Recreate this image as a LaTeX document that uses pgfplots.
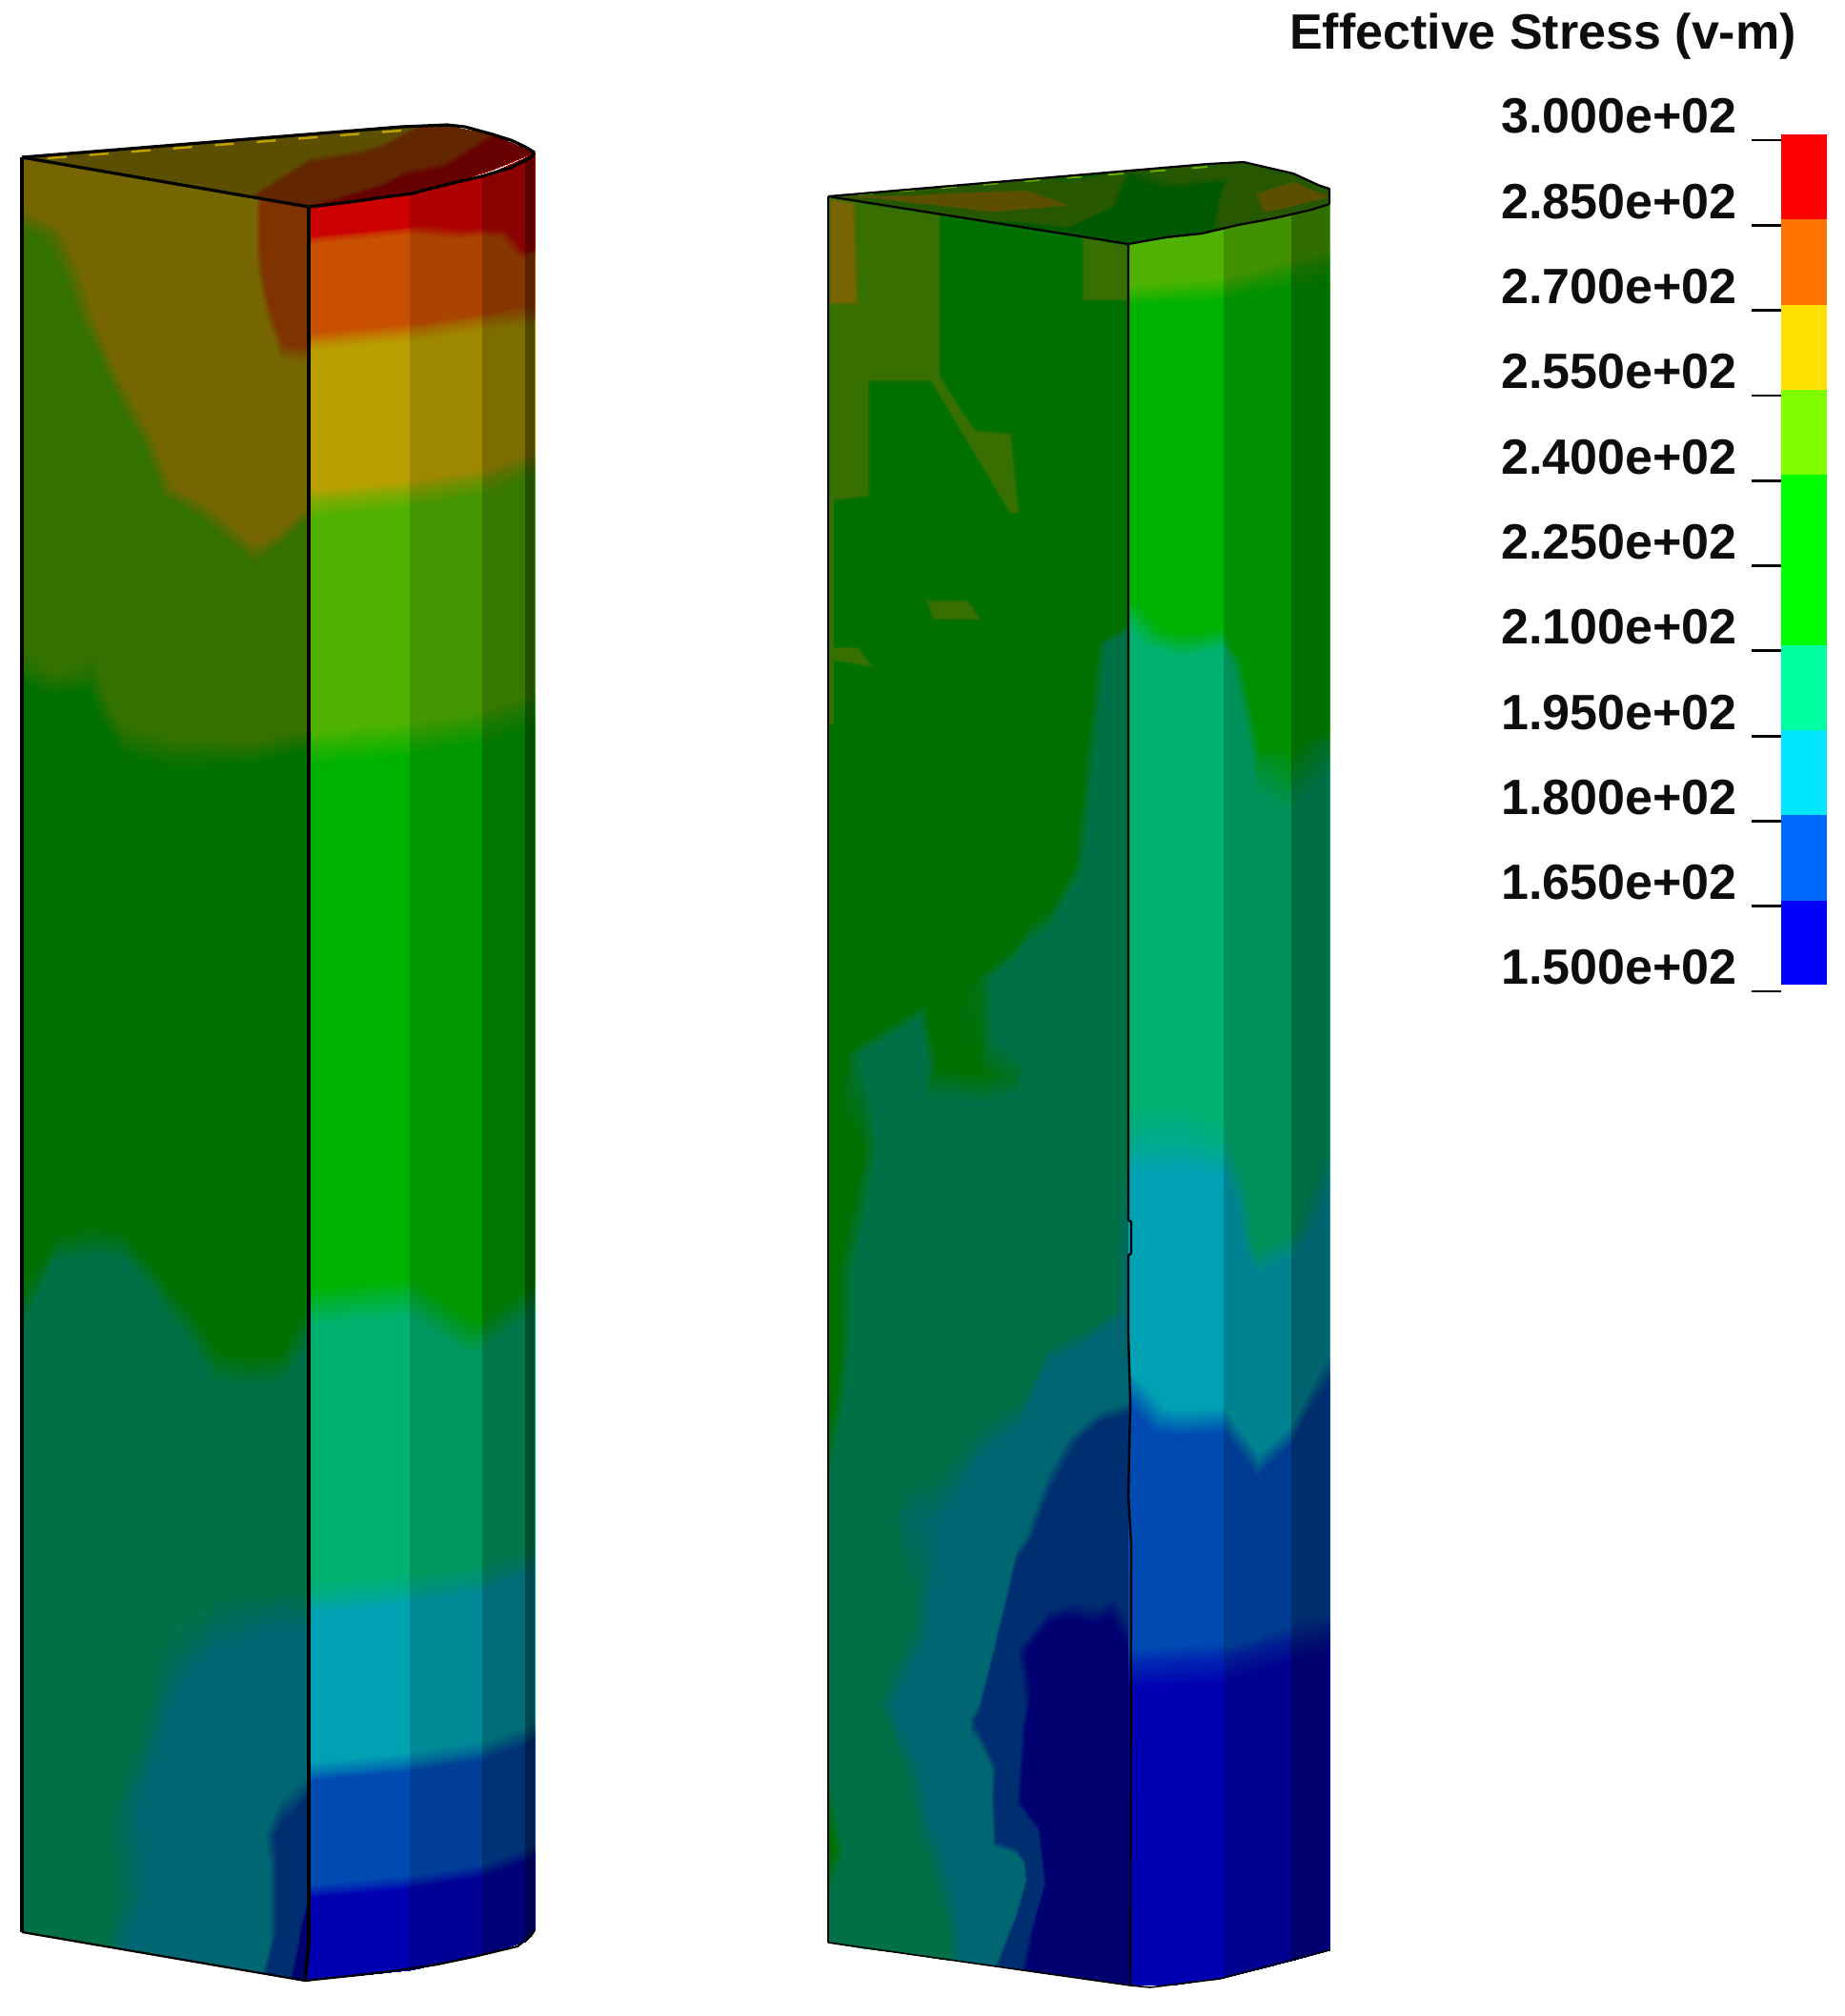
\documentclass[border=0pt]{standalone}
\usepackage{fontspec}
\setmainfont{Liberation Sans}
\usepackage{pgfplots}
\pgfplotsset{compat=1.18}
\definecolor{dashY}{RGB}{190,160,0}
\definecolor{dashL}{RGB}{105,170,0}
\definecolor{limeF}{RGB}{55,112,0}
\definecolor{oliveF}{RGB}{120,100,0}
\definecolor{b0}{RGB}{0,0,255}
\definecolor{b1}{RGB}{0,105,255}
\definecolor{b2}{RGB}{0,230,255}
\definecolor{b3}{RGB}{0,255,160}
\definecolor{b4}{RGB}{0,255,0}
\definecolor{b6}{RGB}{128,255,0}
\definecolor{b7}{RGB}{255,225,0}
\definecolor{b8}{RGB}{255,115,0}
\definecolor{b9}{RGB}{255,0,0}
\pgfplotsset{
 colormap={fringe}{
  rgb255(150pt)=(0,0,178) rgb255(164pt)=(0,0,178)
  rgb255(166pt)=(0,74,178) rgb255(179pt)=(0,74,178)
  rgb255(181pt)=(0,161,178) rgb255(194pt)=(0,161,178)
  rgb255(196pt)=(0,178,112) rgb255(209pt)=(0,178,112)
  rgb255(211pt)=(0,178,0) rgb255(239pt)=(0,178,0)
  rgb255(241pt)=(80,178,0) rgb255(254pt)=(80,178,0)
  rgb255(256pt)=(185,160,0) rgb255(269pt)=(185,160,0)
  rgb255(271pt)=(200,80,0) rgb255(284pt)=(200,80,0)
  rgb255(286pt)=(205,0,0) rgb255(300pt)=(205,0,0)
 },
 fld/.style={surf,shader=interp,mesh/ordering=x varies,point meta=explicit},
 dim/.style={fill=black,fill opacity=#1,draw=none,forget plot},
 ln/.style={black,line width=#1,line join=round,no marks},
}
\begin{document}
\begin{tikzpicture}
\useasboundingbox (0,0) rectangle (968pt,-1057.5pt);
\begin{axis}[
 at={(0,0)},anchor=north west,scale only axis,width=968pt,height=1057.5pt,
 xmin=0,xmax=1936,ymin=0,ymax=2115,y dir=reverse,hide axis,clip=false,
 colormap name=fringe,point meta min=150,point meta max=300]

% ---- left pillar, side face
\addplot[fld,mesh/cols=9,mesh/rows=16] table[meta=v,row sep=\\]{
x y v\\
23 165 260\\ 57 171 262\\ 96 178 262\\ 130 183 262\\ 180 192 262\\ 230 201 262\\ 265 207 268\\ 295 212 278\\ 324 217 280\\
23 240 254\\ 57 246 255\\ 96 253 258\\ 130 258 262\\ 180 267 262\\ 230 276 262\\ 265 282 268\\ 295 287 276\\ 324 292 280\\
23 320 250\\ 57 326 252\\ 96 333 255.5\\ 130 338 260\\ 180 347 262\\ 230 356 262\\ 265 362 264\\ 295 367 270\\ 324 372 270\\
23 400 248\\ 57 406 249\\ 96 413 251\\ 130 418 255\\ 180 427 260\\ 230 436 261\\ 265 442 261\\ 295 447 262\\ 324 452 262\\
23 480 247\\ 57 486 247\\ 96 493 248\\ 130 498 250\\ 180 507 256\\ 230 516 258\\ 265 522 260\\ 295 527 259\\ 324 532 255.5\\
23 560 246\\ 57 566 246\\ 96 573 246\\ 130 578 247\\ 180 587 248\\ 230 596 251\\ 265 602 253\\ 295 607 250\\ 324 612 248\\
23 700 240.2\\ 57 706 241\\ 96 713 240\\ 130 718 244\\ 180 727 244\\ 230 736 244\\ 265 742 244\\ 295 747 243\\ 324 752 242\\
23 760 236\\ 57 766 236\\ 96 773 237\\ 130 778 240\\ 180 787 240.2\\ 230 796 239.5\\ 265 802 239\\ 295 807 238\\ 324 812 237\\
23 1290 213\\ 57 1296 211\\ 96 1303 210\\ 130 1308 210\\ 180 1317 213\\ 230 1326 215\\ 265 1332 216\\ 295 1337 216\\ 324 1342 212\\
23 1380 209.8\\ 57 1386 205\\ 96 1393 204\\ 130 1398 204\\ 180 1407 208\\ 230 1416 211\\ 265 1422 211\\ 295 1427 210.5\\ 324 1432 208\\
23 1640 202\\ 57 1646 201\\ 96 1653 200\\ 130 1658 199\\ 180 1667 197\\ 230 1676 196\\ 265 1682 195.5\\ 295 1687 195\\ 324 1692 195\\
23 1720 201\\ 57 1726 200\\ 96 1733 199\\ 130 1738 198\\ 180 1747 195\\ 230 1756 193\\ 265 1762 192\\ 295 1767 191.5\\ 324 1772 191\\
23 1810 200\\ 57 1816 199\\ 96 1823 198\\ 130 1828 197\\ 180 1837 193\\ 230 1846 190\\ 265 1852 187\\ 295 1857 183\\ 324 1862 181\\
23 1880 200\\ 57 1886 199\\ 96 1893 198\\ 130 1898 195\\ 180 1907 192\\ 230 1916 188\\ 265 1922 183\\ 295 1927 178\\ 324 1932 174\\
23 1970 199\\ 57 1976 198\\ 96 1983 197\\ 130 1988 195.5\\ 180 1997 192\\ 230 2006 188\\ 265 2012 185\\ 295 2017 178\\ 324 2022 160\\
23 2027 199\\ 57 2033 198\\ 96 2040 197\\ 130 2045 194\\ 180 2054 190\\ 230 2063 187\\ 265 2069 185\\ 295 2074 172\\ 324 2079 152\\
};
\addplot[dim=.36] coordinates {(23,165)(324,217)(324,2079)(23,2027)} -- cycle;

% ---- left pillar, rounded face
\addplot[fld,mesh/cols=5,mesh/rows=11] table[meta=v,row sep=\\]{
x y v\\
324 217 300\\ 430 203 300\\ 506 185 300\\ 551 165 300\\ 561 160 300\\
324 250 285\\ 430 240 285\\ 506 228 288\\ 551 212 292\\ 561 205 292\\
324 300 277\\ 430 290 277\\ 506 278 278\\ 551 262 286\\ 561 255 287\\
324 357 270\\ 430 347 270\\ 506 335 270\\ 551 319 271\\ 561 312 272\\
324 525 255\\ 430 515 255\\ 506 503 255\\ 551 487 255\\ 561 480 255\\
324 784 240\\ 430 774 240\\ 506 762 240\\ 551 746 240\\ 561 739 240\\
324 1370 210\\ 430 1360 210\\ 506 1348 213\\ 551 1332 212\\ 561 1325 212\\
324 1680 195\\ 430 1670 195\\ 506 1658 195\\ 551 1642 195\\ 561 1635 195\\
324 1860 180\\ 430 1850 180\\ 506 1838 180\\ 551 1822 180\\ 561 1815 180\\
324 1985 165\\ 430 1975 165\\ 506 1963 165\\ 551 1947 165\\ 561 1940 165\\
322 2078 150\\ 430 2067 150\\ 506 2051 150\\ 551 2037 150\\ 561 2025 150\\
};
\addplot[dim=.15] coordinates {(430,203)(506,185)(506,2051)(430,2067)} -- cycle;
\addplot[dim=.32] coordinates {(506,185)(551,165)(551,2037)(506,2051)} -- cycle;
\addplot[dim=.55] coordinates {(551,165)(561,160)(561,2025)(551,2037)} -- cycle;

% ---- left pillar, cap
\addplot[fld,mesh/cols=8,mesh/rows=2] table[meta=v,row sep=\\]{
x y v\\
23 165 260\\ 130 156 260\\ 230 148 262\\ 324 141 262\\ 402 135 264\\ 467 131 275\\ 517 141 285\\ 561 160 295\\
23 165 260\\ 130 183 260\\ 230 201 262\\ 324 217 285\\ 402 207 290\\ 467 194 290\\ 517 178 295\\ 561 160 295\\
};
\addplot[dim=.5] coordinates {(23,165)(130,156)(230,148)(324,141)(402,135)(467,131)(517,141)(561,160)(517,178)(467,194)(402,207)(324,217)(230,201)(130,183)} -- cycle;
\addplot[dashY,line width=1.2pt,dash pattern=on 10pt off 12pt,no marks] coordinates {(50,166)(421,137)};

% ---- right pillar, side face
\addplot[fld,mesh/cols=9,mesh/rows=15] table[meta=v,row sep=\\]{
x y v\\
869 206 225\\ 905 212 225\\ 945 218 225\\ 985 224 225\\ 1027 231 225\\ 1066 237 225\\ 1100 242 225\\ 1150 250 225\\ 1184 256 225\\
869 560 225\\ 905 566 225\\ 945 572 225\\ 985 578 225\\ 1027 585 225\\ 1066 591 225\\ 1100 596 225\\ 1150 604 225\\ 1184 609 222\\
869 630 224\\ 905 636 224\\ 945 642 224\\ 985 648 224\\ 1027 655 224\\ 1066 661 224\\ 1100 666 224\\ 1150 674 211\\ 1184 679 205\\
869 870 222\\ 905 876 222\\ 945 882 222\\ 985 888 222\\ 1027 895 222\\ 1066 901 222\\ 1100 906 215\\ 1150 914 207\\ 1184 919 203\\
869 1000 222\\ 905 1006 222\\ 945 1012 218\\ 985 1018 214\\ 1027 1025 210.5\\ 1066 1031 206\\ 1100 1036 204\\ 1150 1044 203\\ 1184 1049 201\\
869 1100 213\\ 905 1106 209\\ 945 1112 205\\ 985 1118 211\\ 1027 1125 211\\ 1066 1131 210\\ 1100 1136 204\\ 1150 1144 202\\ 1184 1149 199\\
869 1200 212\\ 905 1206 211\\ 945 1212 206\\ 985 1218 205\\ 1027 1225 205\\ 1066 1231 205\\ 1100 1236 204\\ 1150 1244 200\\ 1184 1249 195\\
869 1330 212\\ 905 1336 208\\ 945 1342 196\\ 985 1348 203\\ 1027 1355 204\\ 1066 1361 203\\ 1100 1366 202\\ 1150 1374 198\\ 1184 1379 194\\
869 1470 212\\ 905 1476 206\\ 945 1482 200\\ 985 1488 198\\ 1027 1495 196\\ 1066 1501 194\\ 1100 1506 184\\ 1150 1514 176\\ 1184 1519 174\\
869 1580 208\\ 905 1586 203\\ 945 1592 195\\ 985 1598 194\\ 1027 1605 190\\ 1066 1611 183\\ 1100 1616 175\\ 1150 1624 172\\ 1184 1629 170\\
869 1700 207\\ 905 1706 204\\ 945 1712 197\\ 985 1718 193\\ 1027 1725 190\\ 1066 1731 166\\ 1100 1736 160\\ 1150 1744 160\\ 1184 1749 163\\
869 1780 206\\ 905 1786 198\\ 945 1792 193\\ 985 1798 190\\ 1027 1805 178\\ 1066 1811 168\\ 1100 1816 155\\ 1150 1824 155\\ 1184 1829 155\\
869 1860 209\\ 905 1866 203\\ 945 1872 197\\ 985 1878 192\\ 1027 1885 188\\ 1066 1891 166\\ 1100 1896 155\\ 1150 1904 155\\ 1184 1909 155\\
869 1940 212\\ 905 1946 206\\ 945 1952 199\\ 985 1958 195\\ 1027 1965 190\\ 1066 1971 188\\ 1100 1976 162\\ 1150 1984 155\\ 1184 1989 155\\
869 2038 206\\ 905 2044 204\\ 945 2049 200\\ 985 2055 198\\ 1027 2060 190\\ 1066 2066 168\\ 1100 2071 155\\ 1150 2077 155\\ 1184 2083 155\\
};
\addplot[dim=.36] coordinates {(869,206)(1184,256)(1184,2083)(869,2038)} -- cycle;
% lighter patches on that face
\addplot[fill=limeF,draw=limeF,draw opacity=.4,line width=2pt,forget plot] coordinates {(871,209)(985,226)(985,399)(911,399)(911,519)(871,525)} -- cycle;
\addplot[fill=limeF,draw=limeF,draw opacity=.4,line width=2pt,forget plot] coordinates {(975,395)(985,395)(1022,452)(1060,456)(1068,537)(1060,537)} -- cycle;
\addplot[fill=limeF,draw=limeF,draw opacity=.4,line width=2pt,forget plot] coordinates {(974,631)(1015,631)(1027,649)(980,649)} -- cycle;
\addplot[fill=limeF,draw=limeF,draw opacity=.4,line width=2pt,forget plot] coordinates {(872,680)(900,680)(913,698)(872,692)} -- cycle;
\addplot[fill=limeF,draw=limeF,draw opacity=.4,line width=2pt,forget plot] coordinates {(1137,250)(1182,258)(1182,314)(1137,314)} -- cycle;
\addplot[fill=limeF,draw=none,forget plot] coordinates {(869,519)(875,519)(875,760)(869,760)} -- cycle;
\addplot[fill=oliveF,draw=oliveF,draw opacity=.4,line width=3pt,forget plot] coordinates {(872,210)(895,214)(898,317)(872,317)} -- cycle;

% ---- right pillar, rounded face
\addplot[fld,mesh/cols=6,mesh/rows=11] table[meta=v,row sep=\\]{
x y v\\
1184 256 245\\ 1235 247 245\\ 1284 239 245\\ 1320 232 245\\ 1355 225 245\\ 1395 214 245\\
1184 310 240\\ 1235 306 240\\ 1284 303 240\\ 1320 293 240\\ 1355 283 240\\ 1395 274 240\\
1184 640 210\\ 1235 636 213\\ 1284 633 213\\ 1320 623 222\\ 1355 613 226\\ 1395 604 226\\
1184 700 207\\ 1235 696 208.5\\ 1284 693 208\\ 1320 683 214\\ 1355 673 222\\ 1395 664 222\\
1184 812 203\\ 1235 808 204\\ 1284 805 204\\ 1320 795 210.2\\ 1355 785 211\\ 1395 776 210\\
1184 1204 195\\ 1235 1200 195\\ 1284 1197 195.5\\ 1320 1187 199\\ 1355 1177 199\\ 1395 1168 197\\
1184 1320 191\\ 1235 1316 190.5\\ 1284 1313 191\\ 1320 1303 196.5\\ 1355 1293 196\\ 1395 1284 193\\
1184 1454 180\\ 1235 1450 183\\ 1284 1447 183\\ 1320 1437 187\\ 1355 1427 187\\ 1395 1418 181\\
1184 1553 175\\ 1235 1549 176\\ 1284 1546 176\\ 1320 1536 180\\ 1355 1526 178\\ 1395 1517 175\\
1184 1747 165\\ 1235 1743 165\\ 1284 1740 165\\ 1320 1730 165\\ 1355 1720 165\\ 1395 1711 165\\
1186 2083 152\\ 1235 2082 152\\ 1284 2075 152\\ 1320 2066 152\\ 1355 2057 152\\ 1395 2046 152\\
};
\addplot[dim=.18] coordinates {(1284,239)(1355,225)(1355,2057)(1284,2075)} -- cycle;
\addplot[dim=.38] coordinates {(1355,225)(1395,214)(1395,2046)(1355,2057)} -- cycle;

% ---- right pillar, cap
\addplot[fld,mesh/cols=9,mesh/rows=3] table[meta=v,row sep=\\]{
x y v\\
869 206 245\\ 960 198 245\\ 1040 191 242\\ 1120 185 238\\ 1184 179 240\\ 1267 172 245\\ 1305 170 245\\ 1357 182 245\\ 1395 198 245\\
869 206 255\\ 960 209 262\\ 1040 212 270\\ 1120 215 255\\ 1184 217 235\\ 1267 208 235\\ 1305 203 250\\ 1357 203 270\\ 1395 206 255\\
869 206 245\\ 960 220 242\\ 1040 233 238\\ 1120 246 235\\ 1184 256 232\\ 1267 243 238\\ 1305 235 245\\ 1357 224 245\\ 1395 214 245\\
};
\addplot[dim=.5] coordinates {(869,206)(960,198)(1040,191)(1120,185)(1184,179)(1267,172)(1305,170)(1357,182)(1395,198)(1395,214)(1357,224)(1305,235)(1267,243)(1184,256)(1120,246)(1040,233)(960,220)} -- cycle;
\addplot[dashL,line width=1pt,dash pattern=on 8pt off 14pt,no marks] coordinates {(900,204)(1280,174)};

% ---- outlines
\addplot[ln=1.8pt] coordinates {(23,165)(23,2027)};
\addplot[ln=1.8pt] coordinates {(324,217)(324,2040)(320,2078)};
\addplot[ln=1.6pt] coordinates {(23,165)(421,133)(469,131)(488,133)(517,141)(536,147)(551,154)(561,160)};
\addplot[ln=1.6pt] coordinates {(23,165)(324,217)(367,212)(402,207)(432,203)(467,194)(505,185)(536,176)(557,165)(561,160)};
\addplot[ln=1.1pt] coordinates {(23,2027)(320,2078)(339,2076)(377,2072)(411,2068)(459,2061)(497,2053)(543,2042)(557,2031)(561,2025)};
\addplot[ln=1.1pt] coordinates {(869,206)(869,2038)};
\addplot[ln=1.2pt] coordinates {(1184,256)(1184,1280)(1187,1282)(1187,1315)(1184,1317)(1184,1400)(1186,1470)(1184,1570)(1187,1620)(1186,2083)};
\addplot[ln=1.1pt] coordinates {(869,206)(1267,172)(1305,170)(1357,182)(1383,194)(1395,198)(1395,214)};
\addplot[ln=1.1pt] coordinates {(869,206)(1184,256)(1223,249)(1261,245)(1299,236)(1337,229)(1376,220)(1395,214)};
\addplot[ln=.8pt] coordinates {(869,2038)(1186,2083)(1207,2085)(1280,2076)(1337,2061)(1395,2046)};
\node[font=\fontsize{26}{30}\bfseries\selectfont,anchor=center,inner sep=0pt,text=black!95] at (axis cs:1619,38) {Effective Stress (v-m)};
\end{axis}

% ---- fringe scale
\begin{axis}[
 at={(934.5pt,-73.5pt)},anchor=north west,scale only axis,width=24pt,height=446.5pt,
 xmin=0,xmax=1,ymin=150,ymax=300,clip=false,
 axis line style={draw=none},xtick=\empty,
 ytick={150,165,180,195,210,225,240,255,270,285,300},
 yticklabels={1.500e+02,1.650e+02,1.800e+02,1.950e+02,2.100e+02,2.250e+02,2.400e+02,2.550e+02,2.700e+02,2.850e+02,3.000e+02},
 axis y line*=left,tick align=outside,major tick length=15.5pt,
 ytick style={black,line width=1.4pt},
 yticklabel style={font=\fontsize{26}{30}\bfseries\selectfont,inner sep=0pt,yshift=12.5pt,xshift=-7.5pt,text=black!95}]
\addplot[fill=b0,draw=none] coordinates {(0,151.2)(1,151.2)(1,166)(0,166)} -- cycle;
\addplot[fill=b1,draw=none] coordinates {(0,166)(1,166)(1,181)(0,181)} -- cycle;
\addplot[fill=b2,draw=none] coordinates {(0,181)(1,181)(1,196)(0,196)} -- cycle;
\addplot[fill=b3,draw=none] coordinates {(0,196)(1,196)(1,211)(0,211)} -- cycle;
\addplot[fill=b4,draw=none] coordinates {(0,211)(1,211)(1,226)(0,226)} -- cycle;
\addplot[fill=b4,draw=none] coordinates {(0,226)(1,226)(1,241)(0,241)} -- cycle;
\addplot[fill=b6,draw=none] coordinates {(0,241)(1,241)(1,256)(0,256)} -- cycle;
\addplot[fill=b7,draw=none] coordinates {(0,256)(1,256)(1,271)(0,271)} -- cycle;
\addplot[fill=b8,draw=none] coordinates {(0,271)(1,271)(1,286)(0,286)} -- cycle;
\addplot[fill=b9,draw=none] coordinates {(0,286)(1,286)(1,301)(0,301)} -- cycle;
\end{axis}
\end{tikzpicture}
\end{document}
